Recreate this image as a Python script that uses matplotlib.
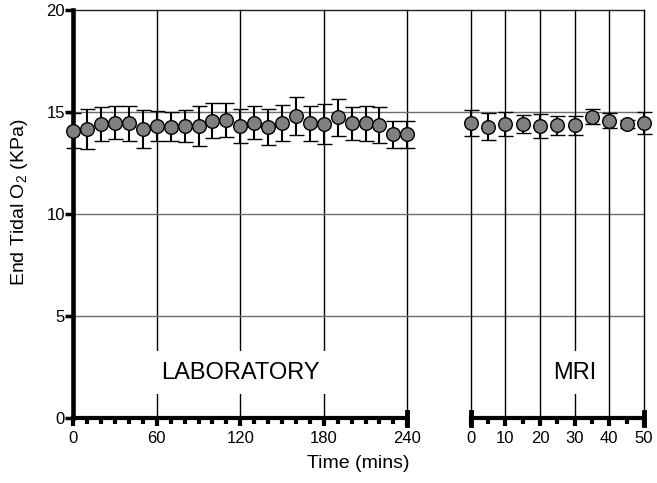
import matplotlib
matplotlib.use("Agg")
import matplotlib.pyplot as plt
import matplotlib.transforms as mtransforms

plt.rcParams['font.family'] = ['Liberation Sans', 'DejaVu Sans']
plt.rcParams['mathtext.default'] = 'regular'

# Laboratory session (every 10 mins)
lab_time = [0, 10, 20, 30, 40, 50, 60, 70, 80, 90, 100, 110, 120,
            130, 140, 150, 160, 170, 180, 190, 200, 210, 220, 230, 240]
lab_mean = [14.07, 14.14, 14.40, 14.46, 14.43, 14.14, 14.30, 14.27, 14.30,
            14.30, 14.56, 14.59, 14.30, 14.46, 14.27, 14.43, 14.79, 14.43,
            14.40, 14.72, 14.43, 14.43, 14.35, 13.89, 13.89]
lab_sd = [0.87, 0.98, 0.83, 0.82, 0.85, 0.93, 0.72, 0.70, 0.77, 0.97, 0.87,
          0.85, 0.85, 0.82, 0.88, 0.88, 0.95, 0.85, 0.96, 0.92, 0.82, 0.85,
          0.90, 0.67, 0.67]

# MRI session (every 5 mins)
mri_time = [0, 5, 10, 15, 20, 25, 30, 35, 40, 45, 50]
mri_mean = [14.46, 14.27, 14.40, 14.40, 14.30, 14.33, 14.33, 14.76, 14.56, 14.40, 14.46]
mri_sd = [0.64, 0.66, 0.59, 0.44, 0.57, 0.47, 0.48, 0.37, 0.36, 0.20, 0.53]

lab_ticks = [0, 60, 120, 180, 240]
mri_ticks = [0, 10, 20, 30, 40, 50]
y_ticks = [0, 5, 10, 15, 20]

W, H = 657, 483
fig = plt.figure(figsize=(W / 100, H / 100), dpi=100)
bottom = (H - 418.3) / H
height = (418.3 - 9.5) / H
ax1 = fig.add_axes([73.3 / W, bottom, (407.3 - 73.3) / W, height])
ax2 = fig.add_axes([470.7 / W, bottom, (644 - 470.7) / W, height])

marker_style = dict(fmt='o', ms=9.8, mfc='#808080', mec='black', mew=1.0,
                    ecolor='black', elinewidth=1.5, capsize=5.4, capthick=1.5,
                    clip_on=False, zorder=5)

# panel gauche
ax1.set_xlim(0, 240)
ax1.set_ylim(0, 20)
ax1.errorbar(lab_time, lab_mean, yerr=lab_sd, **marker_style)
for x in lab_ticks[1:]:
    ax1.axvline(x, color='black', lw=1.0, zorder=1, clip_on=False)
ax1.text(120, 2.24, 'LABORATORY', fontsize=17, ha='center', va='center',
         bbox=dict(facecolor='white', edgecolor='none', pad=7.5), zorder=3)

# lignes horizontales sur toute la largeur
x_left = ax1.get_position().x0
x_right = ax2.get_position().x1
trans = mtransforms.blended_transform_factory(fig.transFigure, ax1.transData)
for y in y_ticks[1:-1]:
    ax1.plot([x_left, x_right], [y, y], color='#6e6e6e', lw=1.0,
             transform=trans, clip_on=False, zorder=1)
ax1.plot([x_left, x_right], [20, 20], color='#222222', lw=1.0,
         transform=trans, clip_on=False, zorder=1)

ax1.set_xticks(lab_ticks)
ax1.set_xticks(lab_time, minor=True)
ax1.set_yticks(y_ticks)
for s in ['top', 'right']:
    ax1.spines[s].set_visible(False)
ax1.spines['left'].set_linewidth(3.3)
ax1.spines['bottom'].set_linewidth(3.0)
ax1.tick_params(axis='x', which='major', length=6, width=3, pad=3.5, labelsize=12)
ax1.tick_params(axis='x', which='minor', length=4.5, width=3)
ax1.tick_params(axis='y', which='major', length=5.5, width=2.5, pad=0.5, labelsize=12)
ax1.axvline(240, ymin=-0.016, ymax=0.016, color='black', lw=3.5, clip_on=False)

# panel droit
ax2.set_xlim(0, 50)
ax2.set_ylim(0, 20)
ax2.patch.set_visible(False)
ax2.errorbar(mri_time, mri_mean, yerr=mri_sd, **marker_style)
for x in mri_ticks:
    ax2.axvline(x, color='black', lw=1.0, zorder=1, clip_on=False)
ax2.text(30, 2.24, 'MRI', fontsize=17, ha='center', va='center',
         bbox=dict(facecolor='white', edgecolor='none', pad=7.5), zorder=3)
ax2.set_xticks(mri_ticks)
ax2.set_xticks(mri_time, minor=True)
ax2.set_yticks([])
for s in ['top', 'right', 'left']:
    ax2.spines[s].set_visible(False)
ax2.spines['bottom'].set_linewidth(3.0)
ax2.tick_params(axis='x', which='major', length=6, width=3, pad=3.5, labelsize=12)
ax2.tick_params(axis='x', which='minor', length=4.5, width=3)
for x in [0, 50]:
    ax2.axvline(x, ymin=-0.016, ymax=0.016, color='black', lw=3.5, clip_on=False)

fig.text(20 / W, 1 - 202 / H, 'End Tidal O$_2$ (KPa)', rotation=90,
         ha='center', va='center', fontsize=14)
fig.text(358 / W, 1 - 463 / H, 'Time (mins)', ha='center', va='center', fontsize=14)

fig.savefig('out.png', dpi=100)
